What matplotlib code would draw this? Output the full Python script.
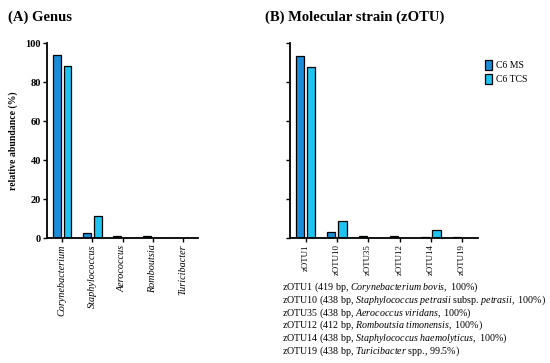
import numpy as np
import matplotlib
matplotlib.use('Agg')
import matplotlib.pyplot as plt

plt.rcParams['font.family'] = 'Liberation Serif'
plt.rcParams['mathtext.fontset'] = 'custom'
plt.rcParams['mathtext.rm'] = 'Liberation Serif'
plt.rcParams['mathtext.it'] = 'Liberation Serif:italic'

# Datos
genus = ['Corynebacterium', 'Staphylococcus', 'Aerococcus', 'Romboutsia', 'Turicibacter']
genus_ms = [94.0, 2.8, 1.0, 1.0, 0.3]
genus_tcs = [88.5, 11.3, 0.2, 0.2, 0.3]

zotu = ['zOTU1', 'zOTU10', 'zOTU35', 'zOTU12', 'zOTU14', 'zOTU19']
zotu_ms = [93.5, 3.0, 1.3, 1.0, 0.7, 0.7]
zotu_tcs = [88.0, 9.0, 0.3, 0.3, 4.0, 0.3]

series = ['C6 MS', 'C6 TCS']
yticks = [0, 20, 40, 60, 80, 100]

notes = [
    r'zOTU1 (419 bp, $\mathit{Corynebacterium\ bovis,}$ 100%)',
    r'zOTU10 (438 bp, $\mathit{Staphylococcus\ petrasii}$ subsp. $\mathit{petrasii,}$ 100%)',
    r'zOTU35 (438 bp, $\mathit{Aerococcus\ viridans,}$ 100%)',
    r'zOTU12 (412 bp, $\mathit{Romboutsia\ timonensis,}$ 100%)',
    r'zOTU14 (438 bp, $\mathit{Staphylococcus\ haemolyticus,}$ 100%)',
    r'zOTU19 (438 bp, $\mathit{Turicibacter}$ spp., 99.5%)',
]

c_ms = '#1a8cd8'
c_tcs = '#1ec3f0'
w = 0.26
off = 0.18

fig = plt.figure(figsize=(5.5, 3.63), dpi=100)
ax1 = fig.add_axes([0.0855, 0.344, 0.2745, 0.537])
ax2 = fig.add_axes([0.527, 0.344, 0.342, 0.537])


def style(ax, n, labels, italic, size):
    x = np.arange(n)
    ax.set_xlim(-0.5, n - 0.5)
    ax.set_ylim(0, 100)
    ax.set_yticks(yticks)
    ax.set_xticks(x)
    ax.set_xticklabels(labels, rotation=90, fontsize=size,
                       style='italic' if italic else 'normal')
    for s in ['top', 'right']:
        ax.spines[s].set_visible(False)
    for s in ['left', 'bottom']:
        ax.spines[s].set_linewidth(1.3)
    ax.tick_params(width=1, length=3, pad=1.5)


x1 = np.arange(len(genus))
ax1.bar(x1 - off, genus_ms, w, color=c_ms, edgecolor='black', linewidth=0.9, label=series[0])
ax1.bar(x1 + off, genus_tcs, w, color=c_tcs, edgecolor='black', linewidth=0.9, label=series[1])
style(ax1, len(genus), genus, True, 7.3)
for t in ax1.get_yticklabels():
    t.set_fontweight('bold')
    t.set_fontsize(7.5)
ax1.set_ylabel('relative abundance (%)', fontsize=7, fontweight='bold', labelpad=5)

x2 = np.arange(len(zotu))
ax2.bar(x2 - off, zotu_ms, w, color=c_ms, edgecolor='black', linewidth=0.9, label=series[0])
ax2.bar(x2 + off, zotu_tcs, w, color=c_tcs, edgecolor='black', linewidth=0.9, label=series[1])
style(ax2, len(zotu), zotu, False, 6.4)
ax2.set_yticklabels([])
ax2.legend(loc='upper left', bbox_to_anchor=(0.99, 0.96), frameon=False, fontsize=7,
           handlelength=0.7, handleheight=1.3, handletextpad=0.4, labelspacing=0.35)

fig.text(0.015, 0.952, '(A) Genus', fontsize=10.5, fontweight='bold', va='center')
fig.text(0.482, 0.952, '(B) Molecular strain (zOTU)', fontsize=10.5, fontweight='bold', va='center')

for i, n in enumerate(notes):
    fig.text(0.513, 1 - (287 + 12.9 * i) / 363, n, fontsize=7.2, va='center')

fig.savefig('out.png', dpi=100)
